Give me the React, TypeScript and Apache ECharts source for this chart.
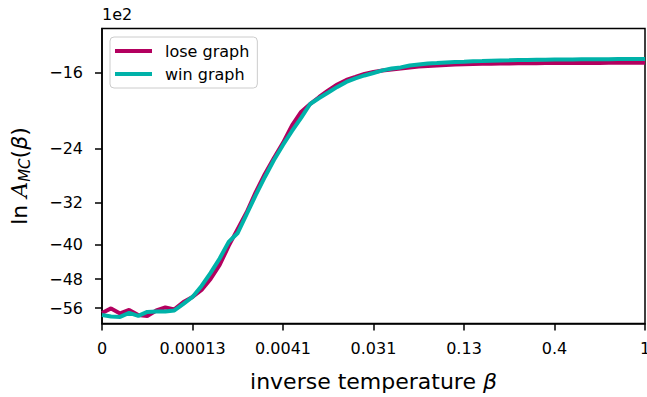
import React, { useEffect, useRef } from "react";
import * as echarts from "echarts";

// step index along the annealing schedule (axis position)
const steps: number[] = Array.from({ length: 61 }, (_, i) => i);

// ln A_MC(beta), raw values
const loseGraph: number[] = [
  -5745, -5608, -5760, -5653, -5806, -5837, -5669, -5579, -5638, -5418,
  -5276, -5083, -4794, -4450, -4022, -3674, -3357, -3018, -2742, -2519,
  -2325, -2119, -1972, -1890, -1821, -1759, -1704, -1663, -1637, -1611,
  -1594, -1581, -1573, -1565, -1556, -1548, -1544, -1540, -1536, -1533,
  -1530, -1528, -1526, -1525, -1524, -1523, -1522, -1521, -1521, -1520,
  -1520, -1520, -1519, -1519, -1519, -1519, -1518, -1518, -1518, -1518,
  -1518,
];
const winGraph: number[] = [
  -5806, -5853, -5868, -5745, -5837, -5714, -5699, -5699, -5669, -5476,
  -5276, -4976, -4643, -4299, -3937, -3754, -3392, -3067, -2787, -2546,
  -2350, -2182, -2036, -1890, -1831, -1778, -1726, -1681, -1650, -1624,
  -1603, -1581, -1565, -1556, -1540, -1532, -1524, -1520, -1515, -1511,
  -1509, -1506, -1504, -1501, -1499, -1498, -1496, -1495, -1494, -1493,
  -1492, -1492, -1491, -1490, -1490, -1489, -1489, -1488, -1488, -1487,
  -1487,
];

const xTickLabels: string[] = ["0", "0.00013", "0.0041", "0.031", "0.13", "0.4", "1"];
const yTickValues: number[] = [-16, -24, -32, -40, -48, -56]; // in units of 1e2
const yRange: number[] = [-60.77, -12.65]; // in units of 1e2

const toAxis = (v: number) => -Math.log(-v / 100); // log-of-magnitude warp
const tickToAxis = (t: number) => -Math.log(-t);

const FONT = "DejaVu Sans";

export default function App() {
  const ref = useRef<HTMLDivElement>(null);
  useEffect(() => {
    if (!ref.current) return;
    const chart = echarts.init(ref.current, undefined, { renderer: "svg" });
    const yTicks = yTickValues.map(tickToAxis);
    chart.setOption({
      animation: false,
      backgroundColor: "#fff",
      grid: {
        left: 102,
        right: 2,
        top: 28.5,
        bottom: 73.5,
        containLabel: false,
        outerBoundsMode: "none",
        show: true,
        borderColor: "#000",
        borderWidth: 1.5,
        backgroundColor: "transparent",
      },
      legend: {
        orient: "vertical",
        left: 110,
        top: 37,
        padding: [6, 8, 6, 5],
        itemGap: 7,
        itemWidth: 37,
        itemHeight: 4,
        icon: "rect",
        borderColor: "#cccccc",
        borderWidth: 1,
        borderRadius: 4,
        backgroundColor: "rgba(255,255,255,0.8)",
        textStyle: { fontFamily: FONT, fontSize: 16, color: "#000", padding: [0, 0, 0, 8] },
        data: ["lose graph", "win graph"],
      },
      graphic: [
        {
          type: "text",
          left: 102,
          top: 6,
          style: { text: "1e2", fontFamily: FONT, fontSize: 16, fill: "#000" },
        },
      ],
      xAxis: {
        type: "value",
        min: 0,
        max: 60,
        interval: 10,
        name: "{t|inverse temperature }{b|β}",
        nameLocation: "middle",
        nameGap: 47,
        nameTextStyle: {
          rich: {
            t: { fontFamily: FONT, fontSize: 22, color: "#000" },
            b: { fontFamily: FONT, fontSize: 22, fontStyle: "italic", color: "#000" },
          },
        },
        splitLine: { show: false },
        axisLine: { show: true, lineStyle: { color: "#000", width: 1.5 } },
        axisTick: { show: true, length: 7, lineStyle: { color: "#000", width: 1.5 } },
        axisLabel: {
          fontFamily: FONT,
          fontSize: 16,
          color: "#000",
          margin: 17,
          showMaxLabel: true,
          hideOverlap: false,
          formatter: (v: number) => xTickLabels[Math.round(v / 10)] ?? "",
        },
      },
      yAxis: {
        type: "value",
        min: toAxis(yRange[0] * 100),
        max: toAxis(yRange[1] * 100),
        name: "{a|ln }{m|A}{s|MC}{a|(}{b|β}{a|)}",
        nameLocation: "middle",
        nameRotate: 90,
        nameGap: 70,
        nameTextStyle: {
          rich: {
            a: { fontFamily: FONT, fontSize: 22, color: "#000" },
            m: { fontFamily: "DejaVu Serif", fontSize: 22, fontStyle: "italic", color: "#000" },
            s: { fontFamily: FONT, fontSize: 15, fontStyle: "italic", color: "#000", padding: [10, 0, 0, 0] },
            b: { fontFamily: FONT, fontSize: 22, fontStyle: "italic", color: "#000" },
          },
        },
        splitLine: { show: false },
        axisLine: { show: true, lineStyle: { color: "#000", width: 1.5 } },
        axisTick: {
          show: true,
          length: 7,
          customValues: yTicks,
          lineStyle: { color: "#000", width: 1.5 },
        },
        axisLabel: {
          fontFamily: FONT,
          fontSize: 16,
          color: "#000",
          margin: 19,
          customValues: yTicks,
          formatter: (v: number) => "\u2212" + Math.round(Math.exp(-v)),
        },
      },
      series: [
        {
          name: "lose graph",
          type: "line",
          showSymbol: false,
          symbol: "none",
          lineStyle: { color: "#b3005f", width: 4 },
          itemStyle: { color: "#b3005f" },
          data: steps.map((s, i) => [s, toAxis(loseGraph[i])]),
        },
        {
          name: "win graph",
          type: "line",
          showSymbol: false,
          symbol: "none",
          lineStyle: { color: "#00b2a9", width: 4 },
          itemStyle: { color: "#00b2a9" },
          data: steps.map((s, i) => [s, toAxis(winGraph[i])]),
        },
      ],
    });
    return () => chart.dispose();
  }, []);
  return (
    <div
      ref={ref}
      style={{ position: "absolute", left: 0, top: 0, width: 647, height: 397 }}
    />
  );
}
